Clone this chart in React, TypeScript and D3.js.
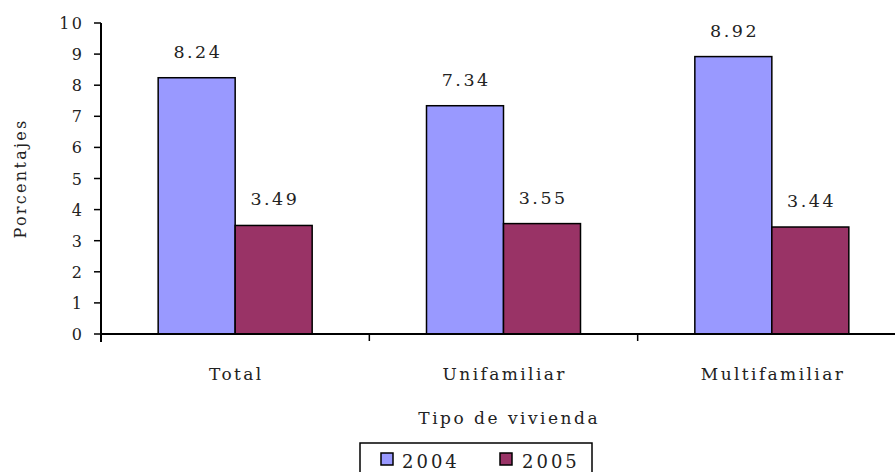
import React from "react";
import * as d3 from "d3";

const categories = ["Total", "Unifamiliar", "Multifamiliar"];
const series = ["2004", "2005"];
const values2004 = [8.24, 7.34, 8.92];
const values2005 = [3.49, 3.55, 3.44];
const yTicks = [0, 1, 2, 3, 4, 5, 6, 7, 8, 9, 10];
const colors = ["#9999FF", "#993366"];

export default function App() {
  const W = 895, H = 472;
  const left = 101, right = 906, top = 23, bottom = 334;
  const font = "'DejaVu Serif', serif";
  const x = d3.scaleBand<string>().domain(categories).range([left, right]);
  const y = d3.scaleLinear().domain([0, 10]).range([bottom, top]);
  const barW = 77;
  const vals = [values2004, values2005];
  return (
    <svg width={W} height={H} style={{ position: "absolute", left: 0, top: 0 }} fontFamily={font}>
      <rect x={0} y={0} width={W} height={H} fill="#fff" />
      {categories.map((c, i) => {
        const cx = x(c)! + x.bandwidth() / 2;
        return (
          <g key={c}>
            {vals.map((vs, s) => {
              const bx = cx - barW + s * barW;
              return (
                <g key={s}>
                  <rect x={bx} y={y(vs[i])} width={barW} height={bottom - y(vs[i])} fill={colors[s]} stroke="#000" strokeWidth={1.5} />
                  <text x={bx + barW / 2 + 1.2} y={y(vs[i]) - 20} textAnchor="middle" fontSize={17.5} letterSpacing={2.5} fill="#222">{vs[i].toFixed(2)}</text>
                </g>
              );
            })}
            <text x={cx + 1.2} y={380} textAnchor="middle" fontSize={17} letterSpacing={2.4} fill="#222">{c}</text>
          </g>
        );
      })}
      <line x1={left} x2={W} y1={bottom} y2={bottom} stroke="#000" strokeWidth={2} />
      <line x1={left} x2={left} y1={top} y2={bottom + 8} stroke="#000" strokeWidth={2} />
      {categories.map((c) => (
        <line key={c} x1={x(c)!} x2={x(c)!} y1={bottom} y2={bottom + 7} stroke="#000" strokeWidth={1.5} />
      ))}
      {yTicks.map((t) => (
        <g key={t}>
          <line x1={left - 7} x2={left} y1={y(t)} y2={y(t)} stroke="#000" strokeWidth={1.5} />
          <text x={left - 19 + 2.5} y={y(t) + 6} textAnchor="end" fontSize={16} letterSpacing={2.5} fill="#222">{t}</text>
        </g>
      ))}
      <text transform={`translate(26,${(top + bottom) / 2} ) rotate(-90)`} textAnchor="middle" fontSize={16} letterSpacing={2.3} fill="#222">Porcentajes</text>
      <text x={508 + 1.2} y={424} textAnchor="middle" fontSize={17} letterSpacing={2.5} fill="#222">Tipo de vivienda</text>
      <rect x={360} y={443} width={232} height={34} fill="#fff" stroke="#000" strokeWidth={1.5} />
      {series.map((s, i) => (
        <g key={s}>
          <rect x={381 + i * 119} y={453} width={12} height={12} fill={colors[i]} stroke="#000" strokeWidth={1.5} />
          <text x={402 + i * 120} y={468} fontSize={18} letterSpacing={3} fill="#222">{s}</text>
        </g>
      ))}
    </svg>
  );
}
